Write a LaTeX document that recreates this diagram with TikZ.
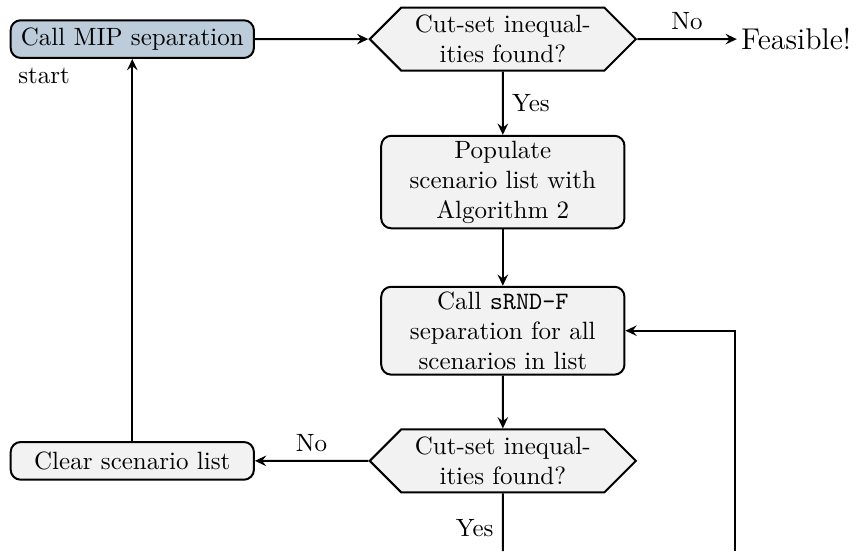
\documentclass[tikz,border=0pt]{standalone}
\usepackage{amsmath}
\usepackage{tikz}
\usetikzlibrary{shapes.symbols, arrows.meta}
\usepackage{xcolor}
\definecolor{startblue}{RGB}{188,204,218}

\begin{document}
\begin{tikzpicture}[
    box/.style={draw, thick, rounded corners=4pt, fill=gray!10, minimum width=3.42cm, minimum height=0.53cm, align=center, inner ysep=2pt},
    decision/.style={draw, thick, shape=signal, signal to=west and east, fill=gray!10, align=center, inner xsep=5.5pt, inner ysep=3pt},
    flow/.style={thick, -{Stealth[length=4.5pt, width=4.2pt, inset=1.6pt]}}]
    \useasboundingbox (0,0) rectangle (12.05,-7.75);
    \node[box, fill=startblue] (mip) at (1.86,-0.55) {Call MIP separation};
    \node[anchor=base west, inner sep=0pt] (startlbl) at (0.25,-1.17) {start};
    \node[decision] (found1) at (7.07,-0.55) {Cut-set inequal-\\ities found?};
    \node[font=\large, inner xsep=1.5pt, anchor=west] (feas) at (10.36,-0.55) {Feasible!};
    \node[box] (populate) at (7.07,-2.56) {Populate\\scenario list with\\Algorithm 2};
    \node[box] (srnd) at (7.07,-4.65) {Call \texttt{sRND-F}\\separation for all\\scenarios in list};
    \node[decision] (found2) at (7.07,-6.48) {Cut-set inequal-\\ities found?};
    \node[box] (clear) at (1.86,-6.48) {Clear scenario list};
    \coordinate (yesout) at (7.07,-7.75);
    \coordinate (loopin) at (10.33,-7.75);

    \draw[flow] (mip) -- (found1);
    \draw[flow] (found1) -- node[above] {No} (feas);
    \draw[flow] (found1) -- node[right] {Yes} (populate);
    \draw[flow] (populate) -- (srnd);
    \draw[flow] (srnd) -- (found2);
    \draw[flow] (found2) -- node[above] {No} (clear);
    \draw[flow] (clear) -- (mip);
    \draw[thick] (found2) -- node[left, pos=0.6] {Yes} (yesout);
    \draw[flow] (loopin) |- (srnd.east);
\end{tikzpicture}
\end{document}
